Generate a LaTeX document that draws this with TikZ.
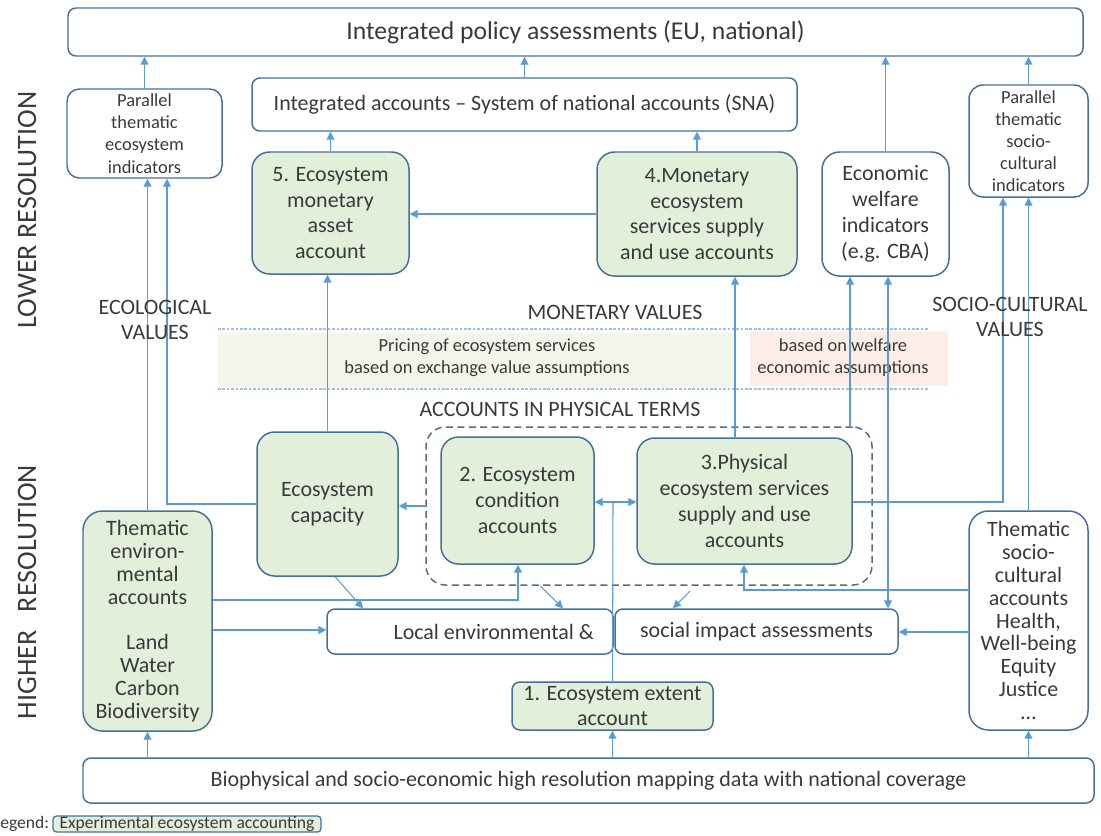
\documentclass[tikz,border=0pt]{standalone}
\usepackage{fontspec}
\setmainfont{Carlito}
\usetikzlibrary{arrows.meta,calc}
\definecolor{bordc}{HTML}{46709A}
\definecolor{arrc}{HTML}{5B9BD5}
\definecolor{greenf}{HTML}{E2EFDA}
\definecolor{txtc}{HTML}{3A3A3A}
\definecolor{dashc}{HTML}{5A6A7E}
\definecolor{bandg}{HTML}{F1F5EA}
\definecolor{bandp}{HTML}{FCEEE7}
\definecolor{dotc}{HTML}{9DBFE3}
\newcommand\fmain{\fontsize{12.5pt}{14.7pt}\selectfont}
\newcommand\fthem{\fontsize{12.5pt}{13pt}\selectfont}
\newcommand\fsmall{\fontsize{10.5pt}{12.6pt}\selectfont}
\newcommand\ftop{\fontsize{14.6pt}{17pt}\selectfont}
\newcommand\fside{\fontsize{16pt}{19pt}\selectfont}
\newcommand\fleg{\fontsize{10pt}{12pt}\selectfont}
\begin{document}
\begin{tikzpicture}[x=0.02cm,y=-0.02cm,
  rect/.style args={#1/#2/#3/#4}{minimum width={(#3-#1)*0.02cm}, minimum height={(#4-#2)*0.02cm}, at={({(#1+#3)/2},{(#2+#4)/2})}},
  box/.style={draw=bordc, line width=0.85pt, rounded corners=4.5pt, inner sep=0pt, align=center, text=txtc, font=\fmain},
  gbox/.style={box, fill=greenf, rounded corners=10pt},
  lbl/.style={inner sep=0pt, align=center, text=txtc, font=\fmain},
  arr/.style={draw=arrc, line width=0.6pt, -{Triangle[length=4.5pt,width=4.5pt]}},
  arrtwo/.style={draw=arrc, line width=0.6pt, {Triangle[length=4.5pt,width=4.5pt]}-{Triangle[length=4.5pt,width=4.5pt]}},
  ln/.style={draw=arrc, line width=0.6pt}
]
\useasboundingbox (0,0) rectangle (1101,835);

% bands
\fill[bandg] (218,333) rectangle (735,387);
\fill[bandp] (750,331) rectangle (948,386);
\draw[dotc, line width=0.6pt, dash pattern=on 1.5pt off 1pt] (218,329) -- (928,329);
\draw[dotc, line width=0.6pt, dash pattern=on 1.5pt off 1pt] (218,389) -- (928,389);

% boxes
\node[box, font=\ftop, rect=68/8/1083/56] (top) {Integrated policy assessments (EU, national)};
\node[box, font=\fsmall, rounded corners=7pt, rect=67/89/222/178] (pe) {Parallel\\thematic\\ecosystem\\indicators};
\node[box, rect=252/78/797/131] (sna) {Integrated accounts -- System of national accounts (SNA)};
\node[gbox, rect=252/152/409/274] (m5) {5. Ecosystem\\monetary\\asset\\account};
\node[gbox, rect=597/152/797/276] (m4) {4.Monetary\\ecosystem\\services supply\\and use accounts};
\node[box, rounded corners=10pt, rect=822/152/949/276] (welf) {Economic\\welfare\\indicators\\(e.g. CBA)};
\node[box, font=\fsmall, rounded corners=8pt, rect=969/85/1088/197] (ps) {Parallel\\thematic\\socio-\\cultural\\indicators};

\node[draw=dashc, line width=0.85pt, dash pattern=on 4pt off 2.5pt, rounded corners=11pt, inner sep=0pt, rect=426/427/872/585] (dash) {};
\node[gbox, rect=257/432/398/576] (cap) {Ecosystem\\capacity};
\node[gbox, rect=441/437/594/564] (c2) {2. Ecosystem\\condition\\accounts};
\node[gbox, rect=637/438/852/564] (p3) {3.Physical\\ecosystem services\\supply and use\\accounts};
\node[gbox, font=\fthem, rounded corners=11pt, rect=83/511/212/731] (te) {Thematic\\environ-\\mental\\accounts\\\mbox{}\\Land\\Water\\Carbon\\Biodiversity};
\node[box, font=\fthem, rounded corners=11pt, rect=969/511/1088/730] (ts) {Thematic\\socio-\\cultural\\accounts\\Health,\\Well-being\\Equity\\Justice\\…};
\node[box, rect=327/609/613/654] (loc) {\hspace*{27pt}Local environmental \&};
\node[box, rect=615/609/898/654] (soc) {social impact assessments};
\node[gbox, rounded corners=4.5pt, rect=512/682/713/730] (ext) {1. Ecosystem extent\\account};
\node[box, rect=83/758/1094/803] (bio) {Biophysical and socio-economic high resolution mapping data with national coverage};

% labels
\node[lbl, font=\fside, rotate=90] (lowr) at (27,210) {LOWER RESOLUTION};
\node[lbl, font=\fside, rotate=90] (highr) at (27,592) {HIGHER\hspace{0.65em}RESOLUTION};
\node[lbl] (monv) at (615,312) {MONETARY VALUES};
\node[lbl, font=\fsmall] (pric) at (487,358) {Pricing of ecosystem services\\based on exchange value assumptions};
\node[lbl, font=\fsmall] (welt) at (843,358) {based on welfare\\economic assumptions};
\node[lbl] (phys) at (560,409) {ACCOUNTS IN PHYSICAL TERMS};
\node[anchor=west, inner sep=0pt, text=txtc, font=\fleg] (legl) at (0,824) {egend:};
\node[box, fill=greenf, font=\fleg, line width=0.7pt, rounded corners=2pt, rect=53/816/321/832] (leg) {Experimental ecosystem accounting};

% helper coordinates
\coordinate (x735) at (735,0);
\coordinate (x850) at (850,0);
\coordinate (x888) at (888,0);
\coordinate (h13) at (167,504);
\coordinate (h14) at (0,506);
\coordinate (h15) at (518,600);
\coordinate (h16) at (0,630);
\coordinate (s17) at (335,0);
\coordinate (e17) at (363,0);
\coordinate (s18) at (540,0);
\coordinate (e18) at (563,0);
\coordinate (s19) at (690,591);
\coordinate (e19) at (673,0);
\coordinate (h20) at (613,502);
\coordinate (h21) at (1003,502);
\coordinate (h23) at (744,590);
\coordinate (h24) at (0,632);

% connectors
\draw[arr] (pe.north) -- (pe.north |- top.south);
\draw[arr] (sna.north) -- (sna.north |- top.south);
\draw[arr] (welf.north) -- (welf.north |- top.south);
\draw[arr] (ps.north) -- (ps.north |- top.south);
\draw[arr] (m5.north) -- (m5.north |- sna.south);
\draw[arr] (m4.north) -- (m4.north |- sna.south);
\draw[arr] (m4.west) -- (m4.west -| m5.east);
\draw[arr] (cap.north) -- (cap.north |- m5.south);
\draw[arr] (p3.north -| x735) -- (m4.south -| x735);
\draw[arr] (dash.north -| x850) -- (welf.south -| x850);
\draw[arrtwo] (welf.south -| x888) -- (soc.north -| x888);
\draw[arr] (te.north) -- (te.north |- pe.south);
\draw[arr] (h13 -| cap.west) -- (h13) -- (h13 |- pe.south);
\draw[arr] (h14 -| dash.west) -- (h14 -| cap.east);
\draw[arr] (h15 -| te.east) -- (h15) -- (h15 |- c2.south);
\draw[arr] (h16 -| te.east) -- (h16 -| loc.west);
\draw[arr] (cap.south -| s17) -- (loc.north -| e17);
\draw[arr] (dash.south -| s18) -- (loc.north -| e18);
\draw[arr] (s19) -- (soc.north -| e19);
\draw[ln] (ext.north) -- (h20);
\draw[arrtwo] (h20 -| c2.east) -- (h20 -| p3.west);
\draw[arr] (h21 -| p3.east) -- (h21) -- (h21 |- ps.south);
\draw[arr] (ts.north) -- (ts.north |- ps.south);
\draw[arr] (h23 -| ts.west) -- (h23) -- (h23 |- p3.south);
\draw[arr] (h24 -| ts.west) -- (h24 -| soc.east);
\draw[arr] (te.south |- bio.north) -- (te.south);
\draw[arr] (ext.south |- bio.north) -- (ext.south);
\draw[arr] (ts.south |- bio.north) -- (ts.south);

% value labels
\node[lbl] (ecol) at (155,320) {ECOLOGICAL\\VALUES};
\node[lbl] (socv) at (1010,317) {SOCIO-CULTURAL\\VALUES};
\end{tikzpicture}
\end{document}
